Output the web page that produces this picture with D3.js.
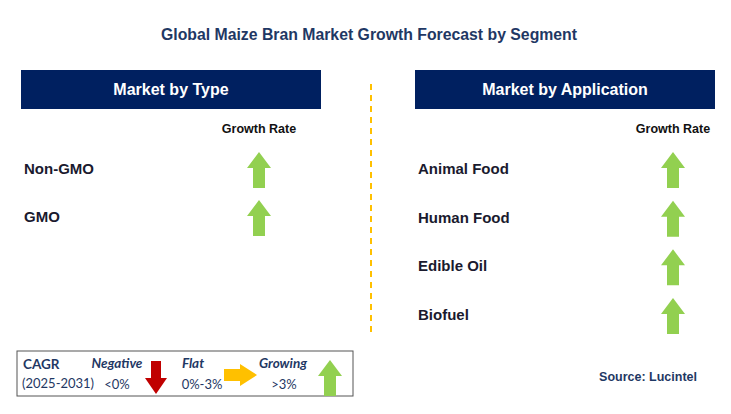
<!DOCTYPE html>
<html><head><meta charset="utf-8">
<script src="https://cdn.jsdelivr.net/npm/d3@7"></script>
<style>body{margin:0;background:#fff}svg{display:block}</style>
</head><body><div id="chart"></div>
<script>
const width = 731, height = 414;
const typeSegments = ["Non-GMO", "GMO"];
const typeGrowth = ["Growing", "Growing"];
const appSegments = ["Animal Food", "Human Food", "Edible Oil", "Biofuel"];
const appGrowth = ["Growing", "Growing", "Growing", "Growing"];
const navy = "#1f3864", boxNavy = "#002060", green = "#92d050", red = "#c00000", amber = "#ffc000";

const svg = d3.select("#chart").append("svg").attr("width", width).attr("height", height)
  .style("font-family", "'Liberation Sans', Arial, sans-serif");

svg.append("text").attr("x", 369).attr("y", 40).attr("text-anchor", "middle")
  .attr("font-size", "15.8px").attr("font-weight", "bold").attr("fill", navy)
  .text("Global Maize Bran Market Growth Forecast by Segment");

// up arrow centred at cx, top at y
function upArrow(g, cx, y, color) {
  const p = [[0,0],[12,16],[6,16],[6,36],[-6,36],[-6,16],[-12,16]];
  g.append("path").attr("d", d3.line()(p.map(d => [cx + d[0], y + d[1]])) + "Z").attr("fill", color);
}

function panel(x0, title, cats, growth, rowScale, arrowX) {
  const w = 300;
  svg.append("rect").attr("x", x0).attr("y", 70).attr("width", w).attr("height", 39).attr("fill", boxNavy);
  svg.append("text").attr("x", x0 + w / 2).attr("y", 95).attr("text-anchor", "middle")
    .attr("fill", "#fff").attr("font-size", "16px").attr("font-weight", "bold").text(title);
  svg.append("text").attr("x", arrowX).attr("y", 133).attr("text-anchor", "middle")
    .attr("font-size", "12.5px").attr("font-weight", "bold").attr("fill", "#111").text("Growth Rate");
  cats.forEach((c, i) => {
    const y = rowScale(c);
    svg.append("text").attr("x", x0 + 3).attr("y", y + 5).attr("font-size", "15px")
      .attr("font-weight", "bold").attr("fill", "#1a1a2e").text(c);
    if (growth[i] === "Growing") upArrow(svg, arrowX, y - 17, green);
  });
}

const typeY = d3.scalePoint().domain(typeSegments).range([169, 217]);
const appY = d3.scalePoint().domain(appSegments).range([169, 315]);
panel(21, "Market by Type", typeSegments, typeGrowth, typeY, 259);
panel(415, "Market by Application", appSegments, appGrowth, appY, 673);

svg.append("line").attr("x1", 371).attr("x2", 371).attr("y1", 84).attr("y2", 336)
  .attr("stroke", amber).attr("stroke-width", 2).attr("stroke-dasharray", "6,5");

// legend
const lg = svg.append("g").style("font-family", "Lato, 'Open Sans', sans-serif");
lg.append("rect").attr("x", 17).attr("y", 351).attr("width", 336).attr("height", 45)
  .attr("fill", "#fff").attr("stroke", "#555").attr("stroke-width", 1);
const lt = (x, y, t, o = {}) => lg.append("text").attr("x", x).attr("y", y).attr("fill", navy)
  .attr("font-size", o.size || "13px").attr("font-weight", o.bold ? "bold" : "normal")
  .attr("font-style", o.italic ? "italic" : "normal").attr("text-anchor", o.anchor || "start").text(t);
lt(23, 369, "CAGR", {bold: true, size: "13.5px"});
lt(22, 388, "(2025-2031)");
lt(117, 368, "Negative", {bold: true, italic: true, size: "13.5px", anchor: "middle"});
lt(117, 389, "<0%", {anchor: "middle"});
lt(193, 368, "Flat", {bold: true, italic: true, size: "13.5px", anchor: "middle"});
lt(202, 389, "0%-3%", {anchor: "middle"});
lt(283, 368, "Growing", {bold: true, italic: true, size: "13.5px", anchor: "middle"});
lt(284, 389, ">3%", {anchor: "middle"});
lg.append("path").attr("d", d3.line()([[151,361],[161,361],[161,378],[167,378],[156,394],[145,378],[151,378]]) + "Z").attr("fill", red);
lg.append("path").attr("d", d3.line()([[224,369],[240,369],[240,364],[257,375],[240,386],[240,381],[224,381]]) + "Z").attr("fill", amber);
upArrow(lg, 330, 360, green);

svg.append("text").attr("x", 697).attr("y", 381).attr("text-anchor", "end")
  .attr("font-size", "12.5px").attr("font-weight", "bold").attr("fill", navy).text("Source: Lucintel");
</script></body></html>
